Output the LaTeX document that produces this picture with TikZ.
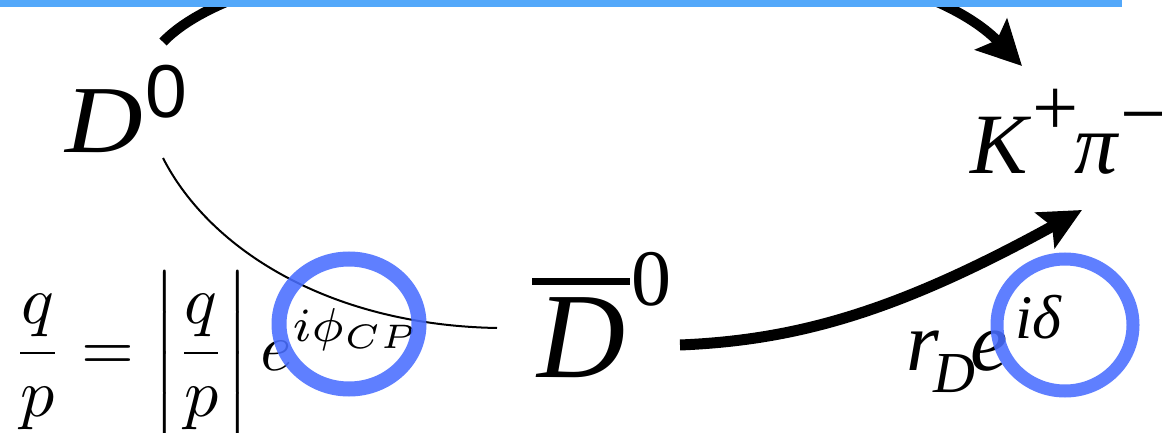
\documentclass[tikz,border=0pt]{standalone}
\usepackage{fontspec}
\usetikzlibrary{arrows.meta}
\newfontfamily\tms{Liberation Serif}
\newfontfamily\hlv{Liberation Sans}
\definecolor{barblue}{RGB}{83,168,250}
\definecolor{ringblue}{RGB}{73,110,255}
\begin{document}
\begin{tikzpicture}[x=1pt,y=-1pt,
  thickarrow/.style={line width=10pt, -{Stealth[length=44pt,width=44pt,inset=8pt]}},
  lowarrow/.style={line width=11pt, -{Stealth[length=42pt,width=40pt,inset=8pt]}},
  thinline/.style={line width=2pt},
  ring/.style={draw=ringblue, opacity=0.88},
  lbl/.style={inner sep=0pt, anchor=base west}]
\useasboundingbox (0,0) rectangle (1162,433);
\clip (0,0) rectangle (1162,433);
\fill[white] (0,0) rectangle (1162,433);
% labels
\node[lbl] (dz) at (65,153) {\fontsize{96}{96}\selectfont\tms\scalebox{1.12}[1]{\itshape D}\kern3pt\raisebox{35pt}{\fontsize{75}{75}\selectfont\hlv 0}};
\node[lbl] (kpi) at (970,173) {\fontsize{86}{86}\selectfont\tms\itshape K\kern5pt\raisebox{38pt}{\fontsize{82}{82}\selectfont\upshape +}\kern-4pt π\kern3pt\raisebox{32pt}{\fontsize{82}{82}\selectfont\upshape −}};
\node[lbl] (dbar) at (537,377) {\fontsize{122}{122}\selectfont\tms\makebox[0pt][l]{\kern-5pt\rule[92pt]{98pt}{7pt}}\itshape D\kern6pt\raisebox{72pt}{\fontsize{80}{80}\selectfont\upshape 0}};
\node[lbl] (rd) at (906,370) {\fontsize{84}{84}\selectfont\tms\itshape r\kern-5pt\raisebox{-22pt}{\fontsize{58}{58}\selectfont D}\kern-5pt e\kern7pt\raisebox{32pt}{\fontsize{62}{62}\selectfont iδ}};
\node[lbl] (qp) at (12,370) {\scalebox{6.8}{$\displaystyle \frac{q}{p}=\left|\frac{q}{p}\right|e^{i\phi_{CP}}$}};
% connectors
\coordinate (a1) at (163,42);
\coordinate (a2) at (1022,66);
\draw[thickarrow] (a1) .. controls (280,-80) and (870,-90) .. (a2);
\coordinate (t1) at (163,158);
\coordinate (t2) at (497,328);
\draw[thinline] (t1) .. controls (210,250) and (330,325) .. (t2);
\coordinate (b1) at (680,345);
\coordinate (b2) at (1082,210);
\draw[lowarrow] (b1) .. controls (800,340) and (900,310) .. (b2);
% top bar
\fill[barblue] (0,0) rectangle (1122,7);
% rings
\draw[ring, line width=15pt] (349,324) ellipse [x radius=70pt, y radius=65pt];
\draw[ring, line width=13pt] (1065,325) ellipse [x radius=68pt, y radius=66pt];
\end{tikzpicture}
\end{document}
